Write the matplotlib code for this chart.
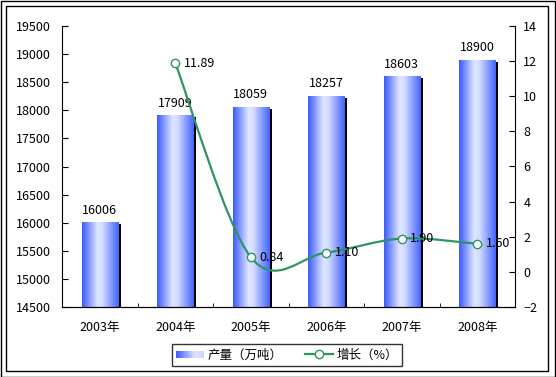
import numpy as np
import matplotlib
matplotlib.use("Agg")
import matplotlib.pyplot as plt
import matplotlib.patheffects as pe
from matplotlib.colors import LinearSegmentedColormap
from matplotlib.patches import Rectangle
from matplotlib.path import Path
from matplotlib.patches import PathPatch
from matplotlib.lines import Line2D
from matplotlib.legend_handler import HandlerBase

plt.rcParams['font.family'] = ['Noto Sans CJK SC', 'DejaVu Sans']
plt.rcParams['font.size'] = 9

# data
years = ["2003年", "2004年", "2005年", "2006年", "2007年", "2008年"]
output = [16006, 17909, 18059, 18257, 18603, 18900]
growth_idx = [1, 2, 3, 4, 5]
growth = [11.89, 0.84, 1.10, 1.90, 1.60]
growth_lbl = ["11.89", "0.84", "1.10", "1.90", "1.60"]

green = "#2e9463"
grad = LinearSegmentedColormap.from_list("g", [(0.0, "#3d5cff"), (0.42, "#dfe6ff"),
                                               (0.55, "#d5ddff"), (1.0, "#4466ff")])

W, H = 556, 377
fig = plt.figure(figsize=(W / 100, H / 100), dpi=100)

# double frame
fig.patches.append(Rectangle((0.5 / W, 0.5 / H), (W - 1.5) / W, (H - 1.5) / H,
                             transform=fig.transFigure, fill=False, ec="k", lw=1.0))
fig.patches.append(Rectangle((6 / W, 6 / H), 542 / W, 365 / H,
                             transform=fig.transFigure, fill=False, ec="k", lw=1.0))

ax = fig.add_axes([62 / W, 1 - 307 / H, 453 / W, 281 / H])
x = np.arange(len(years))
bw = 0.48
bars = ax.bar(x, np.array(output) - 14500, bottom=14500, width=bw, color="none", zorder=1)
for b in bars:
    b.set_path_effects([pe.SimplePatchShadow(offset=(2.2, -1.5), shadow_rgbFace="k", alpha=1.0),
                        pe.Normal()])
    x0, y0 = b.get_x(), b.get_y()
    im = ax.imshow(np.linspace(0, 1, 64).reshape(1, -1), cmap=grad, aspect="auto",
                   extent=[x0, x0 + b.get_width(), y0, y0 + b.get_height()], zorder=2)
    im.set_clip_path(b)
for xi, v in zip(x, output):
    ax.annotate(str(v), (xi, v), xytext=(0, 4), textcoords="offset points",
                ha="center", va="bottom", fontsize=9)

ax.set_xlim(-0.5, len(years) - 0.5)
ax.set_ylim(14500, 19500)
ax.set_yticks(np.arange(14500, 19501, 500))
ax.set_xticks(x)
ax.set_xticklabels(years)
ax.set_xticks(np.arange(-0.5, len(years)), minor=True)
ax.tick_params(axis="x", which="major", length=0, pad=10)
ax.tick_params(axis="x", which="minor", direction="in", length=3)
ax.tick_params(axis="y", direction="in", length=4, pad=8)
ax.spines["top"].set_visible(False)
ax.spines["right"].set_visible(False)

ax2 = ax.twinx()
ax2.set_ylim(-2, 14)
ax2.set_yticks(np.arange(-2, 15, 2))
ax2.tick_params(axis="y", direction="in", length=4, pad=6)
ax2.spines["top"].set_visible(False)
ax2.spines["left"].set_visible(False)

# smooth curve (Catmull-Rom as cubic Bezier) through the data points
px = np.array(growth_idx, dtype=float)
py = np.array(growth, dtype=float)
P = np.column_stack([px, py])
Pe = np.vstack([P[0], P, P[-1]])
verts = [tuple(P[0])]
codes = [Path.MOVETO]
for i in range(len(P) - 1):
    p0, p1, p2, p3 = Pe[i], Pe[i + 1], Pe[i + 2], Pe[i + 3]
    c1 = p1 + (p2 - p0) / 6
    c2 = p2 - (p3 - p1) / 6
    verts += [tuple(c1), tuple(c2), tuple(p2)]
    codes += [Path.CURVE4] * 3
ax2.add_patch(PathPatch(Path(verts, codes), fill=False, ec=green, lw=1.6, zorder=3))
ax2.plot(px, py, ls="none", marker="o", ms=6, mfc="white", mec=green, mew=1.0, zorder=4)
for xi, v, s in zip(px, py, growth_lbl):
    ax2.annotate(s, (xi, v), xytext=(6, 0), textcoords="offset points",
                 ha="left", va="center", fontsize=9)


class GradHandler(HandlerBase):
    def create_artists(self, legend, orig_handle, xdescent, ydescent, width, height, fontsize, trans):
        n = 24
        arts = []
        for i in range(n):
            arts.append(Rectangle((-xdescent + width * i / n, -ydescent + height * 0.1),
                                  width / n * 1.05, height * 0.8,
                                  facecolor=grad(0.6 * (i + 0.5) / n), edgecolor="none",
                                  transform=trans))
        return arts


bar_handle = Rectangle((0, 0), 1, 1)
line_handle = Line2D([], [], color=green, lw=1.6, marker="o", ms=6, mfc="white", mec=green)
leg = fig.legend([bar_handle, line_handle], ["产量（万吨）", "增长（%）"], ncol=2,
                 loc="center", bbox_to_anchor=(287 / W, 1 - 355 / H), fontsize=9,
                 handler_map={Rectangle: GradHandler()}, fancybox=False, frameon=True,
                 edgecolor="k", handlelength=2.2, handletextpad=0.3, columnspacing=1.8,
                 borderpad=0.35, borderaxespad=0)
leg.get_frame().set_linewidth(1.0)

fig.savefig("out.png", dpi=100)
